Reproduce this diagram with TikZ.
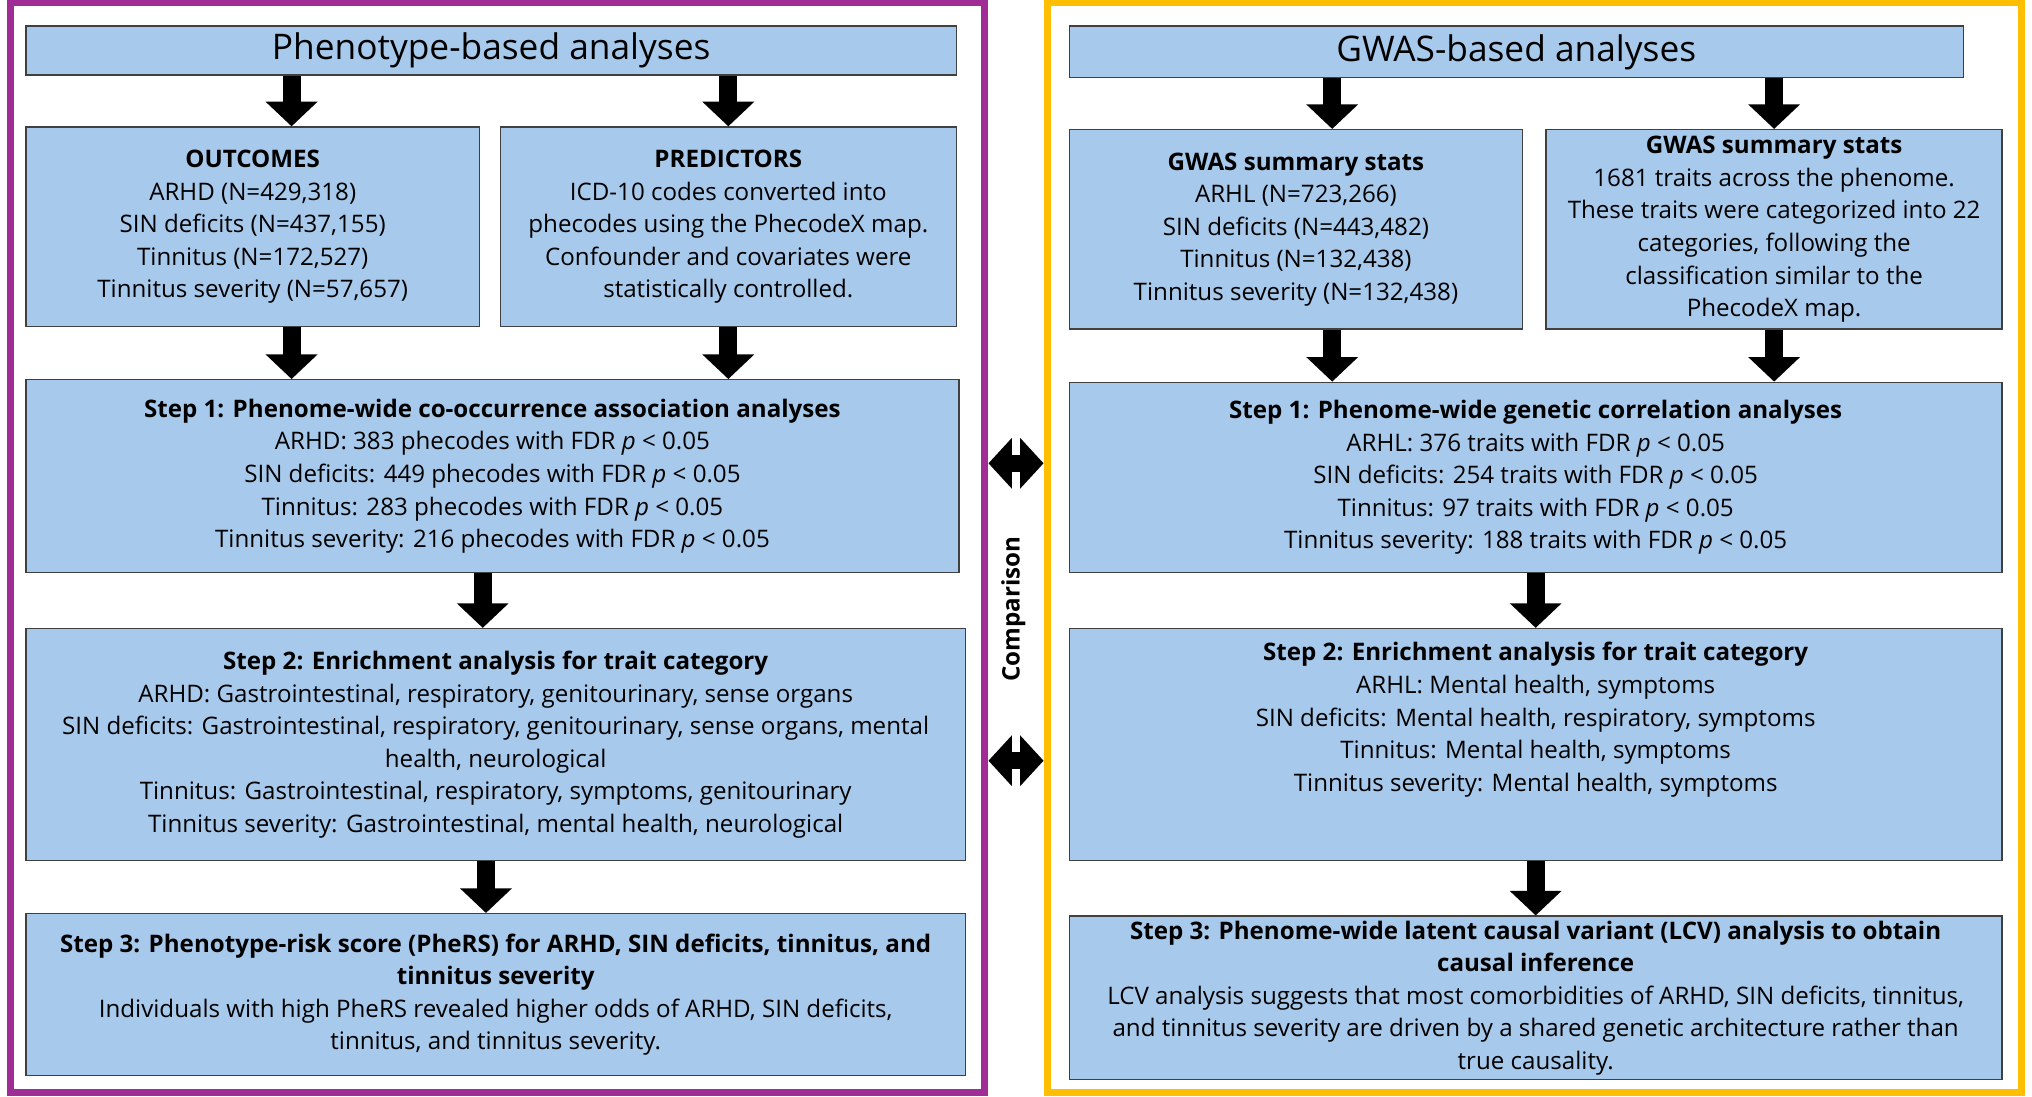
\documentclass[tikz,border=0pt]{standalone}
\usepackage{fontspec}
\setmainfont{Open Sans}
\usetikzlibrary{arrows.meta, positioning}
\definecolor{boxblue}{RGB}{167,201,235}
\definecolor{lframe}{RGB}{160,44,150}
\definecolor{rframe}{RGB}{255,190,0}

\begin{document}
\begin{tikzpicture}[x=0.02cm,y=-0.02cm]
\tikzstyle{box}=[draw=black!75,fill=boxblue,line width=0.6pt,align=center,inner sep=2pt,font=\fontsize{10.6}{14.3}\selectfont]
\tikzstyle{head}=[box,font=\fontsize{15.5}{17}\selectfont]
\tikzstyle{frame}=[draw,line width=3.2pt,minimum width=15.04cm,minimum height=16.82cm]
\tikzstyle{blk}=[line width=0.28cm,-{Triangle[width=0.78cm,length=0.38cm]}]
\tikzstyle{dblk}=[line width=0.26cm,{Triangle[width=0.76cm,length=0.36cm]}-{Triangle[width=0.76cm,length=0.36cm]}]

\useasboundingbox (0,0) rectangle (1568,846);

% Frames
\node[frame,draw=lframe] (LF) at (384,422.5) {};
\node[frame,draw=rframe] (RF) at (1184,422.5) {};

% Phenotype-based side
\node[head,minimum width=14.36cm,minimum height=0.76cm] (LT) at (379,39) {Phenotype-based analyses};
\node[box,minimum width=7.0cm,minimum height=3.08cm] (OUT) at (195,175)
  {\textbf{OUTCOMES}\\ARHD (N=429,318)\\SIN deficits (N=437,155)\\Tinnitus (N=172,527)\\Tinnitus severity (N=57,657)};
\node[box,minimum width=7.04cm,minimum height=3.08cm] (PRE) at (562,175)
  {\textbf{PREDICTORS}\\ICD-10 codes converted into\\phecodes using the PhecodeX map.\\Confounder and covariates were\\statistically controlled.};
\node[box,minimum width=14.4cm,minimum height=2.98cm] (LS1) at (380,367.5)
  {\textbf{Step 1: Phenome-wide co-occurrence association analyses}\\
   ARHD: 383 phecodes with FDR \textit{p} < 0.05\\
   SIN deficits: 449 phecodes with FDR \textit{p} < 0.05\\
   Tinnitus: 283 phecodes with FDR \textit{p} < 0.05\\
   Tinnitus severity: 216 phecodes with FDR \textit{p} < 0.05};
\node[box,minimum width=14.5cm,minimum height=3.58cm] (LS2) at (382.5,574.5)
  {\textbf{Step 2: Enrichment analysis for trait category}\\
   ARHD: Gastrointestinal, respiratory, genitourinary, sense organs\\
   SIN deficits: Gastrointestinal, respiratory, genitourinary, sense organs, mental\\
   health, neurological\\
   Tinnitus: Gastrointestinal, respiratory, symptoms, genitourinary\\
   Tinnitus severity: Gastrointestinal, mental health, neurological};
\node[box,minimum width=14.5cm,minimum height=2.5cm] (LS3) at (382.5,767.5)
  {\textbf{Step 3: Phenotype-risk score (PheRS) for ARHD, SIN deficits, tinnitus, and}\\
   \textbf{tinnitus severity}\\
   Individuals with high PheRS revealed higher odds of ARHD, SIN deficits,\\
   tinnitus, and tinnitus severity.};

% GWAS-based side
\node[head,minimum width=13.8cm,minimum height=0.8cm] (RT) at (1170,40) {GWAS-based analyses};
\node[box,minimum width=7.0cm,minimum height=3.08cm] (GW1) at (1000,177)
  {\textbf{GWAS summary stats}\\ARHL (N=723,266)\\SIN deficits (N=443,482)\\Tinnitus (N=132,438)\\Tinnitus severity (N=132,438)};
\node[box,minimum width=7.04cm,minimum height=3.08cm] (GW2) at (1369,177)
  {\textbf{GWAS summary stats}\\1681 traits across the phenome.\\These traits were categorized into 22\\categories, following the\\classification similar to the\\PhecodeX map.};
\node[box,minimum width=14.4cm,minimum height=2.94cm] (RS1) at (1185,368.5)
  {\textbf{Step 1: Phenome-wide genetic correlation analyses}\\
   ARHL: 376 traits with FDR \textit{p} < 0.05\\
   SIN deficits: 254 traits with FDR \textit{p} < 0.05\\
   Tinnitus: 97 traits with FDR \textit{p} < 0.05\\
   Tinnitus severity: 188 traits with FDR \textit{p} < 0.05};
\node[box,minimum width=14.4cm,minimum height=3.58cm] (RS2) at (1185,574.5)
  {\textbf{Step 2: Enrichment analysis for trait category}\\
   ARHL: Mental health, symptoms\\
   SIN deficits: Mental health, respiratory, symptoms\\
   Tinnitus: Mental health, symptoms\\
   Tinnitus severity: Mental health, symptoms\\[10pt]};
\node[box,minimum width=14.4cm,minimum height=2.48cm] (RS3) at (1185,770)
  {\textbf{Step 3: Phenome-wide latent causal variant (LCV) analysis to obtain}\\
   \textbf{causal inference}\\
   LCV analysis suggests that most comorbidities of ARHD, SIN deficits, tinnitus,\\
   and tinnitus severity are driven by a shared genetic architecture rather than\\
   true causality.};

% Arrows, phenotype side
\draw[blk] ([xshift=0.6cm]OUT.north |- LT.south) -- ([xshift=0.6cm]OUT.north);
\draw[blk] (PRE.north |- LT.south) -- (PRE.north);
\draw[blk] ([xshift=0.6cm]OUT.south) -- ([xshift=0.6cm]OUT.south |- LS1.north);
\draw[blk] (PRE.south) -- (PRE.south |- LS1.north);
\draw[blk] ([xshift=-0.15cm]LS1.south) -- ([xshift=-0.15cm]LS1.south |- LS2.north);
\draw[blk] ([xshift=-0.15cm]LS2.south) -- ([xshift=-0.15cm]LS2.south |- LS3.north);

% Arrows, GWAS side
\draw[blk] ([xshift=0.56cm]GW1.north |- RT.south) -- ([xshift=0.56cm]GW1.north);
\draw[blk] (GW2.north |- RT.south) -- (GW2.north);
\draw[blk] ([xshift=0.56cm]GW1.south) -- ([xshift=0.56cm]GW1.south |- RS1.north);
\draw[blk] (GW2.south) -- (GW2.south |- RS1.north);
\draw[blk] (RS1.south) -- (RS1.south |- RS2.north);
\draw[blk] (RS2.south) -- (RS2.south |- RS3.north);

% Comparison
\draw[dblk] ([yshift=0.2cm]LF.east |- LS1.center) -- ([yshift=0.2cm]RF.west |- LS1.center);
\draw[dblk] ([yshift=-0.25cm]LF.east |- LS2.center) -- ([yshift=-0.25cm]RF.west |- LS2.center);
\node[rotate=90,font=\bfseries\fontsize{10.6}{12}\selectfont] (CMP) at (782,470) {Comparison};
\end{tikzpicture}
\end{document}
